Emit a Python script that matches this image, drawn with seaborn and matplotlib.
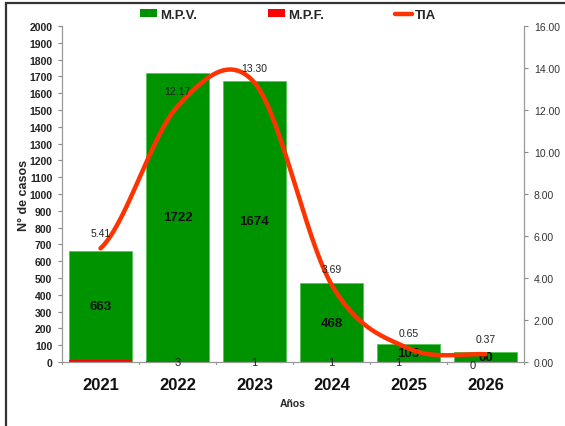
import numpy as np
import pandas as pd
import matplotlib
matplotlib.use("Agg")
import matplotlib.pyplot as plt
from matplotlib.patches import Patch, Rectangle
from matplotlib.lines import Line2D
import seaborn as sns

# Data
years = ["2021", "2022", "2023", "2024", "2025", "2026"]
mpv = [663, 1722, 1674, 468, 105, 60]
mpf = [9, 3, 1, 1, 1, 0]
mpf_labels = [None, "3", "1", "1", "1", "0"]
tia = [5.41, 12.17, 13.30, 3.69, 0.65, 0.37]

GREEN = "#009300"
RED = "#FF0000"
ORANGE = "#FF3300"

sns.set_theme(style="white")
plt.rcParams["font.family"] = ["Liberation Sans", "DejaVu Sans"]

fig = plt.figure(figsize=(5.65, 4.27), dpi=100)
ax = fig.add_axes([62 / 565, 1 - 363 / 427, (524 - 62) / 565, (363 - 27) / 427])

df = pd.DataFrame({"year": years, "mpv": mpv, "mpf": mpf})
sns.barplot(data=df, x="year", y="mpv", color=GREEN, width=0.83, saturation=1,
            edgecolor="#55c455", linewidth=0.6, ax=ax)
sns.barplot(data=df, x="year", y="mpf", color=RED, width=0.83, saturation=1,
            linewidth=0, ax=ax)

ax.set_xlim(-0.5, 5.5)
ax.set_ylim(0, 2000)
ax.set_yticks(np.arange(0, 2001, 100))
ax.set_yticklabels([str(v) for v in range(0, 2001, 100)], fontsize=7.5,
                   fontweight="bold", color="#222222")
ax.set_xticks(range(len(years)))
ax.set_xticklabels(years, fontsize=12, fontweight="bold", color="#111111")
ax.tick_params(axis="x", length=0, pad=11)
ax.tick_params(axis="y", length=3, width=0.8, color="#888888", direction="out",
               left=True, pad=4)
ax.set_xlabel("Años", fontsize=7.5, fontweight="bold", labelpad=4)
ax.set_ylabel("N° de casos", fontsize=9, fontweight="bold", labelpad=-0.5)
for side in ["top", "right"]:
    ax.spines[side].set_visible(False)
for side in ["left", "bottom"]:
    ax.spines[side].set_color("#999999")
    ax.spines[side].set_linewidth(0.9)

# category separator ticks on the x axis
for b in np.arange(-0.5, 6.0, 1.0):
    ax.plot([b, b], [0, -12], color="#999999", lw=0.9, clip_on=False)

# value labels
for i, v in enumerate(mpv):
    ax.text(i, v / 2, str(v), ha="center", va="center", fontsize=9.5,
            fontweight="bold", color="#111111")
mpf_dx = [0, 0, 0, 0, -0.14, -0.17]
for i, lab in enumerate(mpf_labels):
    if lab is None:
        continue
    dy = -3 if lab != "0" else -20
    ax.text(i + mpf_dx[i], mpf[i] + dy, lab, ha="center", va="center",
            fontsize=8, color="#222222")

# TIA on secondary axis
ax2 = ax.twinx()
ax2.set_ylim(0, 16)
ax2.set_yticks(np.arange(0, 16.1, 2))
ax2.set_yticklabels([f"{v:.2f}" for v in np.arange(0, 16.1, 2)], fontsize=7.5,
                    color="#333333")
ax2.tick_params(axis="y", length=3, width=0.8, color="#888888", direction="out",
                right=True, pad=4)
for side in ["top", "left", "bottom"]:
    ax2.spines[side].set_visible(False)
ax2.spines["right"].set_color("#999999")
ax2.spines["right"].set_linewidth(0.9)
ax2.grid(False)
ax.grid(False)

# smoothed curve through the TIA points (Catmull-Rom segments)
p = np.array(tia)
n = len(p)
tang = np.zeros(n)
tang[1:-1] = (p[2:] - p[:-2]) / 2
tang[0] = (p[1] - p[0]) / 2
tang[-1] = (p[-1] - p[-2]) / 2
xs, ys = [], []
for i in range(n - 1):
    t = np.linspace(0, 1, 60)
    h00 = 2 * t**3 - 3 * t**2 + 1
    h10 = t**3 - 2 * t**2 + t
    h01 = -2 * t**3 + 3 * t**2
    h11 = t**3 - t**2
    xs.extend(i + t)
    ys.extend(h00 * p[i] + h10 * tang[i] + h01 * p[i + 1] + h11 * tang[i + 1])
curve = pd.DataFrame({"x": xs, "y": ys})
sns.lineplot(data=curve, x="x", y="y", color=ORANGE, linewidth=3.2, ax=ax2,
             sort=False)
ax2.set_xlabel("")
ax2.set_ylabel("")
ax2.set_xlim(-0.5, 5.5)

for i, v in enumerate(tia):
    ax2.text(i, v + 0.72, f"{v:.2f}", ha="center", va="center", fontsize=7.5,
             color="#222222")

# legend
handles = [Patch(facecolor=GREEN, edgecolor="none"),
           Patch(facecolor=RED, edgecolor="none"),
           Line2D([0], [0], color=ORANGE, lw=3.2)]
fig.legend(handles, ["M.P.V.", "M.P.F.", "TIA"], ncol=3, frameon=False,
           loc="center", bbox_to_anchor=(0.51, 1 - 16 / 427),
           prop={"weight": "bold", "size": 9.5}, handlelength=1.3,
           handleheight=0.55, handletextpad=0.2, columnspacing=5.4)

# outer frame
fig.patches.append(Rectangle((6 / 565, -0.05), 1.2, 1 - 4 / 427 + 0.05,
                             transform=fig.transFigure, fill=False,
                             edgecolor="#333333", linewidth=1.6))

fig.savefig("out.png", dpi=100)
